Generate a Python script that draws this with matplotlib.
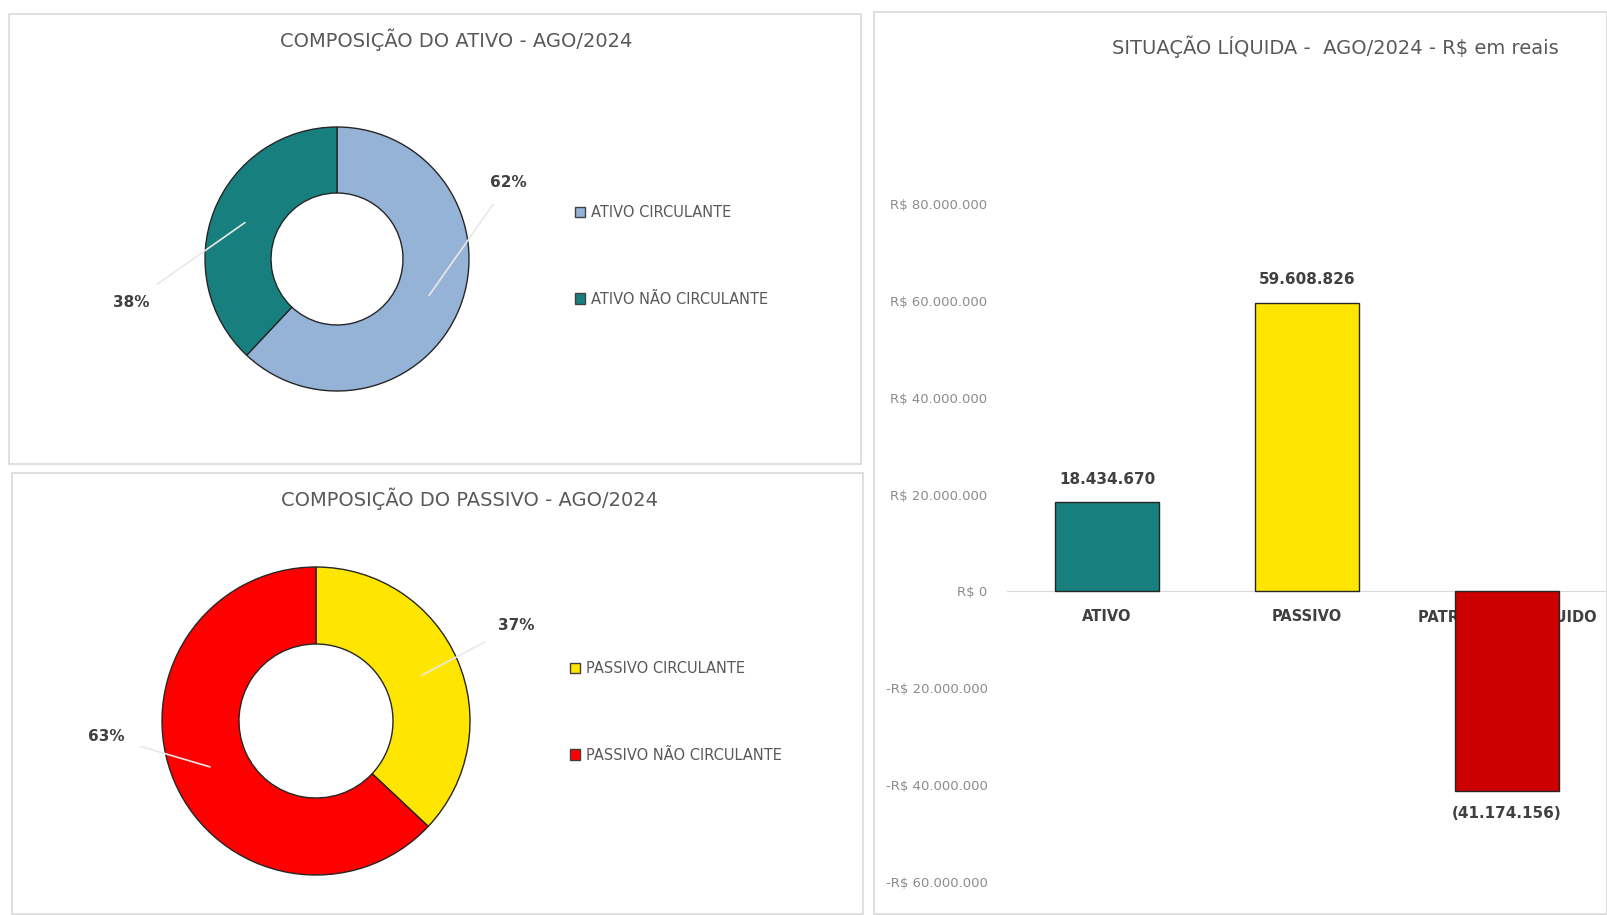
import matplotlib.pyplot as plt
from matplotlib.patches import Rectangle
import numpy as np

plt.rcParams['font.family'] = ['Liberation Sans Narrow', 'DejaVu Sans']

# dados
ativo_labels = ['ATIVO CIRCULANTE', 'ATIVO NÃO CIRCULANTE']
ativo_pct = [62, 38]
passivo_labels = ['PASSIVO CIRCULANTE', 'PASSIVO NÃO CIRCULANTE']
passivo_pct = [37, 63]
categorias = ['ATIVO', 'PASSIVO', 'PATRIMÔNIO LÍQUIDO']
valores = [18434670, 59608826, -41174156]
yticks = [80000000, 60000000, 40000000, 20000000, 0, -20000000, -40000000, -60000000]

W, H = 1608, 915
fig = plt.figure(figsize=(W / 100, H / 100), dpi=100)


def box(x0, y0, x1, y1):
    return [x0 / W, 1 - y1 / H, (x1 - x0) / W, (y1 - y0) / H]


def moldura(x0, y0, x1, y1):
    fig.patches.append(Rectangle((x0 / W, 1 - y1 / H), (x1 - x0) / W, (y1 - y0) / H,
                                 transform=fig.transFigure, fill=False,
                                 edgecolor='#d9d9d9', linewidth=1.2))


moldura(9, 14, 861, 464)
moldura(12, 473, 863, 914)
moldura(874, 12, 1607, 914)

cinza = '#595959'


def rosca(cx, cy, r, pct, labels, cores, pos_lbl, leg_y, titulo, titulo_xy):
    lim = 1.7
    s = 2 * lim * r
    ax = fig.add_axes(box(cx - s / 2, cy - s / 2, cx + s / 2, cy + s / 2))
    wedges, _ = ax.pie(pct, colors=cores, startangle=90, counterclock=False,
                       wedgeprops=dict(width=0.5, edgecolor='#262626', linewidth=1.0))
    ax.set_xlim(-lim, lim)
    ax.set_ylim(-lim, lim)
    ax.set_aspect('equal')
    ax.axis('off')
    inicio = 90
    for p, w, (lx, ly) in zip(pct, wedges, pos_lbl):
        meio = np.deg2rad(inicio - p * 3.6 / 2)
        inicio -= p * 3.6
        px, py = 0.75 * np.cos(meio), 0.75 * np.sin(meio)
        ax.annotate(f'{p}%', xy=(px, py), xytext=(lx, ly), ha='center', va='center',
                    fontsize=11, fontweight='bold', color='#404040',
                    arrowprops=dict(arrowstyle='-', color='#e8e8e8', lw=1.2,
                                    shrinkA=10, shrinkB=0),
                    annotation_clip=False)
    leg = fig.legend(wedges, labels, loc='upper left',
                     bbox_to_anchor=(leg_y[0] / W, 1 - leg_y[1] / H),
                     frameon=False, fontsize=10.5, labelcolor=cinza,
                     handlelength=0.7, handleheight=0.7, handletextpad=0.4,
                     labelspacing=4.9)
    for h in leg.legend_handles:
        h.set_edgecolor('#404040')
    fig.text(titulo_xy[0] / W, 1 - titulo_xy[1] / H, titulo, ha='center', va='center',
             fontsize=14, color=cinza)


rosca(337, 259, 132, ativo_pct, ativo_labels, ['#95b3d7', '#17807e'],
      [(1.3, 0.58), (-1.56, -0.33)], (562, 192), 'COMPOSIÇÃO DO ATIVO - AGO/2024', (456, 40))
rosca(316, 721, 154, passivo_pct, passivo_labels, ['#ffe600', '#ff0000'],
      [(1.3, 0.62), (-1.36, -0.1)], (557, 648), 'COMPOSIÇÃO DO PASSIVO - AGO/2024', (470, 499))

# situação líquida
ax = fig.add_axes(box(1007, 194, 1607, 892))
cores_bar = ['#17807e', '#ffe600', '#cc0000']
x = np.arange(len(categorias))
bars = ax.bar(x, valores, width=0.52, color=cores_bar, edgecolor='#262626', linewidth=1.0, zorder=3)
ax.set_xlim(-0.5, 2.5)
ax.set_ylim(-62060000, 82060000)
for s in ['top', 'right', 'left']:
    ax.spines[s].set_visible(False)
ax.spines['bottom'].set_position(('data', 0))
ax.spines['bottom'].set_color('#d9d9d9')


def moeda(v):
    s = f'{abs(v):,}'.replace(',', '.')
    return ('-R$ ' if v < 0 else 'R$ ') + s


ax.set_yticks(yticks)
ax.set_yticklabels([moeda(v) for v in yticks], fontsize=9.5, color='#8c8c8c')
ax.set_xticks(x)
ax.set_xticklabels(categorias, fontsize=10.5, fontweight='bold', color='#404040', va='center')
ax.tick_params(axis='y', length=0, pad=14)
ax.tick_params(axis='x', length=0, pad=18)

rotulos = [f'{v:,}'.replace(',', '.') if v >= 0 else '(' + f'{-v:,}'.replace(',', '.') + ')'
           for v in valores]
ax.bar_label(bars, labels=rotulos, padding=11, fontsize=11, fontweight='bold', color='#404040')

fig.text(1335 / W, 1 - 47 / H, 'SITUAÇÃO LÍQUIDA -  AGO/2024 - R$ em reais', ha='center',
         va='center', fontsize=14, color=cinza)

fig.savefig('out.png', dpi=100, facecolor='white')
